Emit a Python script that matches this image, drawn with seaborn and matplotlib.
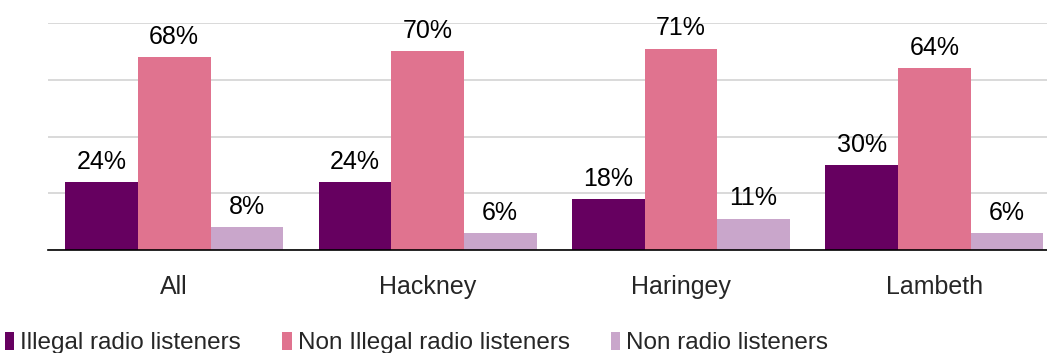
import matplotlib
matplotlib.use("Agg")
import matplotlib.pyplot as plt
import seaborn as sns
import pandas as pd
from matplotlib.patches import Patch

categories = ["All", "Hackney", "Haringey", "Lambeth"]
series_names = ["Illegal radio listeners", "Non Illegal radio listeners", "Non radio listeners"]
illegal = [24, 24, 18, 30]
non_illegal = [68, 70, 71, 64]
non_radio = [8, 6, 11, 6]
colors = ["#660060", "#E0738F", "#C9A6CB"]

rows = []
for name, vals in zip(series_names, [illegal, non_illegal, non_radio]):
    for c, v in zip(categories, vals):
        rows.append({"cat": c, "series": name, "val": v})
df = pd.DataFrame(rows)

sns.set_style("white")
plt.rcParams["font.family"] = ["Liberation Sans", "DejaVu Sans"]

fig = plt.figure(figsize=(10.47, 3.53), dpi=100)
ax = fig.add_axes([47.5 / 1047, 1 - 250 / 353, (1061 - 47.5) / 1047, (250 - 23) / 353])
sns.barplot(data=df, x="cat", y="val", hue="series", order=categories,
            hue_order=series_names, palette=colors, width=0.86, gap=0,
            saturation=1, ax=ax, legend=False, errorbar=None, linewidth=0)
ax.set_ylim(0, 80)
ax.set_yticks([0, 20, 40, 60, 80])
ax.set_yticklabels([])
ax.tick_params(axis="y", length=0)
ax.tick_params(axis="x", length=0, pad=18, labelsize=18)
ax.yaxis.grid(True, color="#d9d9d9", linewidth=1.4)
ax.set_axisbelow(True)
for s in ["left", "right", "top"]:
    ax.spines[s].set_visible(False)
ax.spines["bottom"].set_color("black")
ax.spines["bottom"].set_linewidth(1.2)
ax.set_xlabel("")
ax.set_ylabel("")
for cont in ax.containers:
    ax.bar_label(cont, labels=[f"{int(v)}%" for v in cont.datavalues],
                 padding=6, fontsize=18, color="black", clip_on=False)

handles = [Patch(facecolor=c, edgecolor="none") for c in colors]
fig.legend(handles, series_names, loc="center left", bbox_to_anchor=(5 / 1047, 1 - 343 / 353),
           ncol=3, frameon=False, handlelength=0.38, handleheight=0.75, handletextpad=0.25,
           columnspacing=1.7, borderaxespad=0, borderpad=0.0,
           prop={"family": ["Liberation Sans"], "size": 17.5})
fig.savefig("out.png", dpi=100)
